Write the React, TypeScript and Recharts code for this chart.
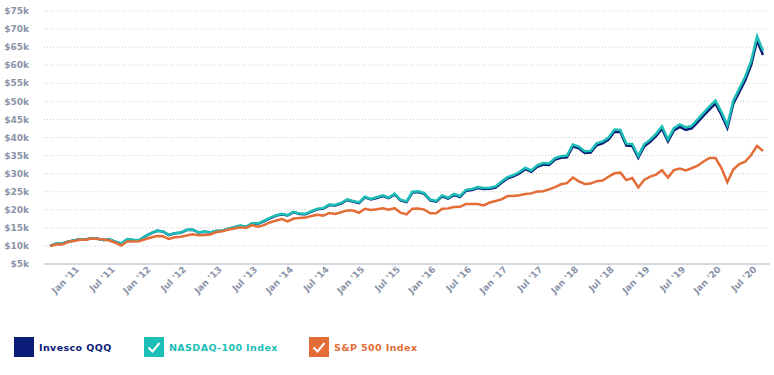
import { LineChart, Line, XAxis, YAxis, CartesianGrid } from 'recharts'

// month-end values, Sep '10 .. Sep '20, growth of $10k (in $k)
const MONTH_NAMES = ['Jan', 'Feb', 'Mar', 'Apr', 'May', 'Jun', 'Jul', 'Aug', 'Sep', 'Oct', 'Nov', 'Dec']

const qqq = [
  10.0, 10.63, 10.61, 11.16,
  11.53, 11.86, 11.77, 12.15, 12.0, 11.62, 11.78, 11.17, 10.62, 11.86, 11.61, 11.58,
  12.63, 13.5, 14.19, 13.99, 12.99, 13.5, 13.66, 14.41, 14.48, 13.7, 13.91, 13.7,
  14.15, 14.22, 14.69, 15.11, 15.59, 15.22, 16.18, 16.12, 16.83, 17.65, 18.32, 18.78,
  18.42, 19.34, 18.83, 18.77, 19.51, 20.13, 20.32, 21.3, 21.18, 21.73, 22.72, 22.28,
  21.86, 23.42, 22.85, 23.27, 23.78, 23.2, 24.25, 22.62, 22.14, 24.75, 24.91, 24.39,
  22.61, 22.23, 23.73, 23.09, 24.12, 23.55, 25.25, 25.49, 26.01, 25.76, 25.83, 26.16,
  27.49, 28.69, 29.27, 30.09, 31.25, 30.49, 31.89, 32.53, 32.43, 33.88, 34.39, 34.55,
  37.56, 37.0, 35.71, 35.81, 37.87, 38.36, 39.44, 41.6, 41.49, 37.74, 37.64, 34.38,
  37.53, 38.81, 40.38, 42.44, 38.89, 41.93, 42.91, 42.12, 42.5, 44.26, 46.03, 47.79,
  49.36, 46.3, 42.66, 49.33, 52.57, 55.8, 60.02, 66.79, 62.85,
]

const nasdaq100 = [
  10.0, 10.63, 10.61, 11.17,
  11.54, 11.87, 11.78, 12.16, 12.01, 11.64, 11.8, 11.19, 10.64, 11.88, 11.63, 11.61,
  12.66, 13.53, 14.23, 14.03, 13.03, 13.54, 13.71, 14.46, 14.53, 13.75, 13.96, 13.76,
  14.21, 14.28, 14.76, 15.18, 15.67, 15.3, 16.26, 16.21, 16.92, 17.75, 18.43, 18.89,
  18.53, 19.46, 18.95, 18.89, 19.64, 20.27, 20.46, 21.45, 21.33, 21.89, 22.89, 22.45,
  22.03, 23.6, 23.03, 23.46, 23.98, 23.4, 24.46, 22.82, 22.34, 24.98, 25.14, 24.62,
  22.83, 22.45, 23.97, 23.32, 24.37, 23.8, 25.52, 25.77, 26.29, 26.05, 26.12, 26.46,
  27.81, 29.03, 29.62, 30.45, 31.63, 30.87, 32.29, 32.94, 32.84, 34.32, 34.84, 35.01,
  38.06, 37.5, 36.2, 36.3, 38.4, 38.9, 40.0, 42.2, 42.1, 38.3, 38.2, 34.9,
  38.1, 39.4, 41.0, 43.1, 39.5, 42.6, 43.6, 42.8, 43.2, 45.0, 46.8, 48.6,
  50.2, 47.1, 43.4, 50.2, 53.5, 56.8, 61.1, 68.0, 64.0,
]

const sp500 = [
  10.0, 10.38, 10.38, 11.08,
  11.34, 11.73, 11.73, 12.08, 11.95, 11.75, 11.51, 10.89, 10.13, 11.23, 11.21, 11.32,
  11.83, 12.34, 12.75, 12.67, 11.91, 12.4, 12.57, 12.86, 13.2, 12.96, 13.04, 13.16,
  13.84, 14.03, 14.56, 14.84, 15.18, 14.98, 15.75, 15.29, 15.76, 16.49, 16.99, 17.41,
  16.8, 17.57, 17.71, 17.84, 18.27, 18.65, 18.39, 19.13, 18.86, 19.31, 19.83, 19.77,
  19.18, 20.27, 19.95, 20.15, 20.41, 20.02, 20.44, 19.21, 18.73, 20.31, 20.37, 20.04,
  19.04, 19.02, 20.31, 20.39, 20.76, 20.82, 21.59, 21.61, 21.61, 21.22, 22.01, 22.45,
  22.88, 23.79, 23.81, 24.05, 24.39, 24.54, 25.05, 25.13, 25.66, 26.25, 27.06, 27.36,
  28.92, 27.85, 27.15, 27.26, 27.92, 28.09, 29.13, 30.09, 30.27, 28.21, 28.78, 26.19,
  28.28, 29.19, 29.74, 30.93, 28.95, 30.98, 31.41, 30.91, 31.5, 32.19, 33.35, 34.35,
  34.35, 31.53, 27.62, 31.16, 32.65, 33.3, 35.17, 37.7, 36.27,
]

const xTicks = [
  "Jan '11", "Jul '11", "Jan '12", "Jul '12", "Jan '13", "Jul '13", "Jan '14", "Jul '14",
  "Jan '15", "Jul '15", "Jan '16", "Jul '16", "Jan '17", "Jul '17", "Jan '18", "Jul '18",
  "Jan '19", "Jul '19", "Jan '20", "Jul '20",
]

const yTicks = [5, 10, 15, 20, 25, 30, 35, 40, 45, 50, 55, 60, 65, 70, 75]

const NAVY = '#0b1c78'
const TEAL = '#1cbfb5'
const ORANGE = '#e36c37'
const TICK = '#8a93a8'
const FONT = '"DejaVu Sans", Verdana, sans-serif'

// first point is Sep '10
const data = qqq.map((v, i) => {
  const m = 8 + i
  const year = 2010 + Math.floor(m / 12)
  return {
    month: `${MONTH_NAMES[m % 12]} '${String(year).slice(2)}`,
    qqq: v,
    nasdaq: nasdaq100[i],
    sp: sp500[i],
  }
})

const legendItems = [
  { label: 'Invesco QQQ', color: NAVY, check: false, left: 14 },
  { label: 'NASDAQ-100 Index', color: TEAL, check: true, left: 144 },
  { label: 'S&P 500 Index', color: ORANGE, check: true, left: 309 },
]

function DateTick({ x, y, payload }: any) {
  return (
    <g transform={`translate(${x + 6},${y + 6})`}>
      <text
        transform="rotate(-45)"
        textAnchor="end"
        fill={TICK}
        fontSize={9}
        fontWeight="bold"
        fontFamily={FONT}
      >
        {payload.value}
      </text>
    </g>
  )
}

function LegendItem({ label, color, check, left }: { label: string; color: string; check: boolean; left: number }) {
  return (
    <div style={{ position: 'absolute', left, top: 337, display: 'flex', alignItems: 'center' }}>
      <svg width={20} height={20}>
        <rect width={20} height={20} fill={color} />
        {check && <path d="M4.5 10.5 L8.5 14.5 L15.5 6" stroke="#fff" strokeWidth={2} fill="none" />}
      </svg>
      <span
        style={{
          marginLeft: 5,
          color,
          fontSize: 9.5,
          fontWeight: 'bold',
          letterSpacing: 0.4,
          fontFamily: FONT,
        }}
      >
        {label}
      </span>
    </div>
  )
}

export default function App() {
  return (
    <div style={{ position: 'relative', width: 774, height: 375, background: '#fff' }}>
      <style>{'body{margin:0}'}</style>
      <LineChart width={774} height={330} data={data} margin={{ top: 11, right: 4, left: 0, bottom: 30 }}>
        <CartesianGrid vertical={false} strokeDasharray="1 2" stroke="#cfcfcf" />
        <XAxis
          dataKey="month"
          ticks={xTicks}
          interval={0}
          height={36}
          padding={{ left: 6, right: 7 }}
          axisLine={{ stroke: '#c8cedc', strokeWidth: 1.5 }}
          tickLine={false}
          tickSize={0}
          tickMargin={0}
          tick={<DateTick />}
        />
        <YAxis
          width={44}
          domain={[5, 75]}
          ticks={yTicks}
          interval={0}
          axisLine={false}
          tickLine={false}
          tickSize={0}
          tickMargin={15}
          tickFormatter={(v) => `$${v}k`}
          tick={{ fill: TICK, fontSize: 9, fontWeight: 'bold', fontFamily: FONT }}
        />
        <Line type="linear" dataKey="qqq" stroke={NAVY} strokeWidth={2.5} dot={false} isAnimationActive={false} />
        <Line type="linear" dataKey="nasdaq" stroke={TEAL} strokeWidth={2.5} dot={false} isAnimationActive={false} />
        <Line type="linear" dataKey="sp" stroke={ORANGE} strokeWidth={2.5} dot={false} isAnimationActive={false} />
      </LineChart>
      {legendItems.map((it) => (
        <LegendItem key={it.label} {...it} />
      ))}
    </div>
  )
}
